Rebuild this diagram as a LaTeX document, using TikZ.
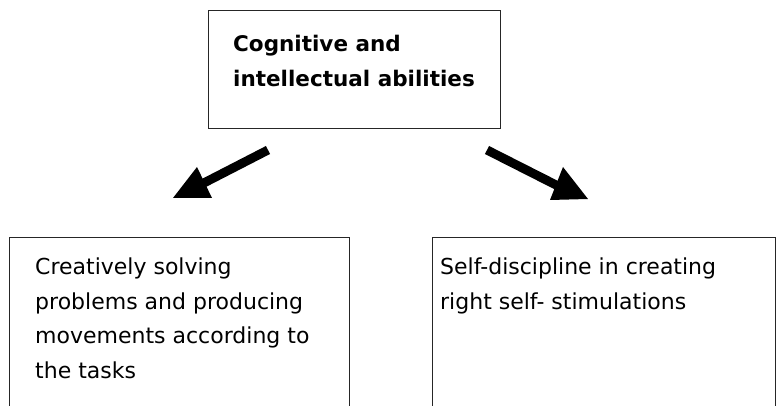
\documentclass[tikz,border=0pt]{standalone}
\usepackage{fontspec}
\setmainfont{DejaVu Sans}
\begin{document}
\begin{tikzpicture}[x=1pt,y=-1pt,
  box/.style={draw=black!85,line width=1.3pt,inner sep=0pt,anchor=north west},
  lbl/.style={inner sep=0pt,anchor=north west,align=left},
  bodytext/.style={font=\fontsize{22}{34.5}\selectfont},
  headtext/.style={font=\bfseries\fontsize{21.5}{35}\selectfont},
  shaft/.style={line width=9pt,black},
  tip/.style={fill=black}]
\useasboundingbox (0,0) rectangle (782,406);
\node[box,minimum width=292pt,minimum height=118pt] (topbox) at (208,10) {};
\node[box,minimum width=340pt,minimum height=170pt] (leftbox) at (9,237) {};
\node[box,minimum width=343pt,minimum height=170pt] (rightbox) at (432,237) {};
\node[lbl,headtext] (toptext) at (233,35) {Cognitive and\\intellectual abilities};
\node[lbl,bodytext] (lefttext) at (35,258) {Creatively solving\\problems and producing\\movements according to\\the tasks};
\node[lbl,bodytext] (righttext) at (440,258) {Self-discipline in creating\\right self- stimulations};
% left arrow
\coordinate (lt) at (268,150);
\coordinate (lh) at (198,186);
\coordinate (lA) at (173,198);
\coordinate (lB) at (212,198);
\coordinate (lC) at (197,167);
\draw[shaft] (lt) -- (lh);
\fill[tip] (lA) -- (lB) -- (lC) -- cycle;
% right arrow
\coordinate (rt) at (487,150);
\coordinate (rh) at (562,188);
\coordinate (rA) at (550,200);
\coordinate (rB) at (588,199);
\coordinate (rC) at (563,167);
\draw[shaft] (rt) -- (rh);
\fill[tip] (rA) -- (rB) -- (rC) -- cycle;
\end{tikzpicture}
\end{document}
